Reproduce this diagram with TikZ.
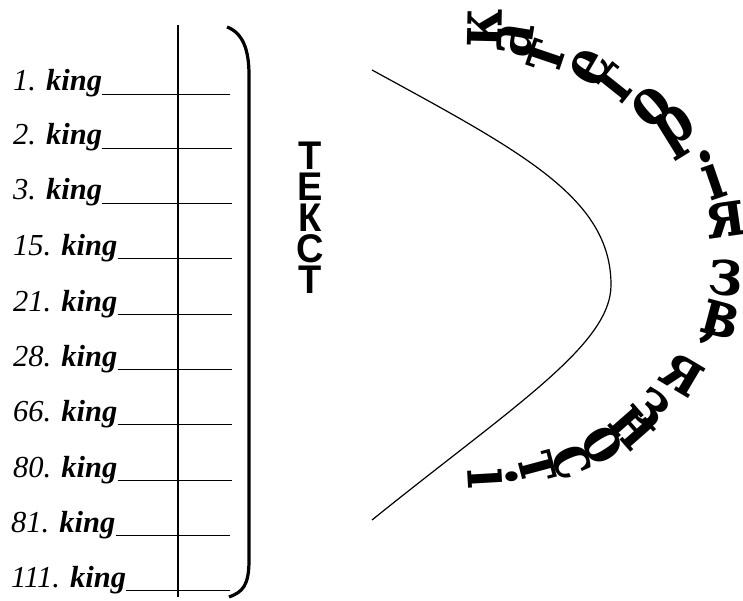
\documentclass[tikz,border=0pt]{standalone}
\usepackage{fontspec}
\usepackage{graphicx}
\setmainfont{Liberation Serif}
\newfontfamily\arcfont{DejaVu Serif}
\newfontfamily\vfont{Liberation Sans}
\newcommand\myarc[1]{\scalebox{0.8}[1]{#1}}
\newcommand\myvert[1]{\scalebox{0.95}[1]{#1}}
\begin{document}
\begin{tikzpicture}[x=1pt,y=-1pt,
  item/.style={anchor=base west,inner sep=0pt,font=\fontsize{30.5}{36}\selectfont},
  uline/.style={line width=1pt},
  arcl/.style={inner sep=0pt,font=\arcfont\bfseries\fontsize{66}{68}\selectfont},
  vl/.style={inner sep=0pt,font=\vfont\bfseries\fontsize{40}{42}\selectfont}]
\useasboundingbox (0,0) rectangle (743,601);
% list items
\foreach \n/\x/\y/\e [count=\i] in {1/13/91/230,2/13/145/232,3/13/200/232,15/13/255/232,21/13/311/232,28/13/366/232,66/13/421/232,80/13/477/232,81/11/532/230,111/11/587/230}{
  \node[item] (t\i) at (\x,\y) {\itshape\n. \bfseries king};
  \draw[uline] ([yshift=-3.5pt]t\i.base east) -- ([yshift=-3.5pt]t\i.base east -| \e,0);
}
% vertical rule
\draw[line width=1.2pt] (178,25) -- (178,597);
% bracket
\draw[line width=3.2pt] (227,27) .. controls (243,33) and (249,50) .. (249,75) -- (249,560) .. controls (249,585) and (243,592) .. (229,597);
% curve
\draw[line width=1.2pt] (372,70) .. controls (522,152) and (611,198) .. (611,285) .. controls (611,345) and (512,407) .. (372,520);
% vertical text
\node[vl] (v1) at (310,156) {\myvert{Т}};
\node[vl] (v2) at (310,187) {\myvert{Е}};
\node[vl] (v3) at (310,218) {\myvert{К}};
\node[vl] (v4) at (310,249) {\myvert{С}};
\node[vl] (v5) at (310,280) {\myvert{Т}};
% arc text
\foreach \c/\x/\y/\a [count=\i] in {к/485/28/88.7,а/515/40/80.8,т/547/57/71.3,е/590/67/59.7,г/618/82/51.4,о/652/107/40.7,р/678/132/31.8,і/712/175/19,я/725/220/8.1,з/726/278/-5.3,в/721/320/-15,’/702/350/-23.2,я/682/375/-30.7,з/650/408/-42,н/632/428/-48.7,о/602/445/-57.3,с/572/462/-66,т/537/468/-75,і/493/478/-86.7}{
  \node[arcl,rotate=\a] (a\i) at (\x,\y) {\myarc{\c}};
}
\end{tikzpicture}
\end{document}
